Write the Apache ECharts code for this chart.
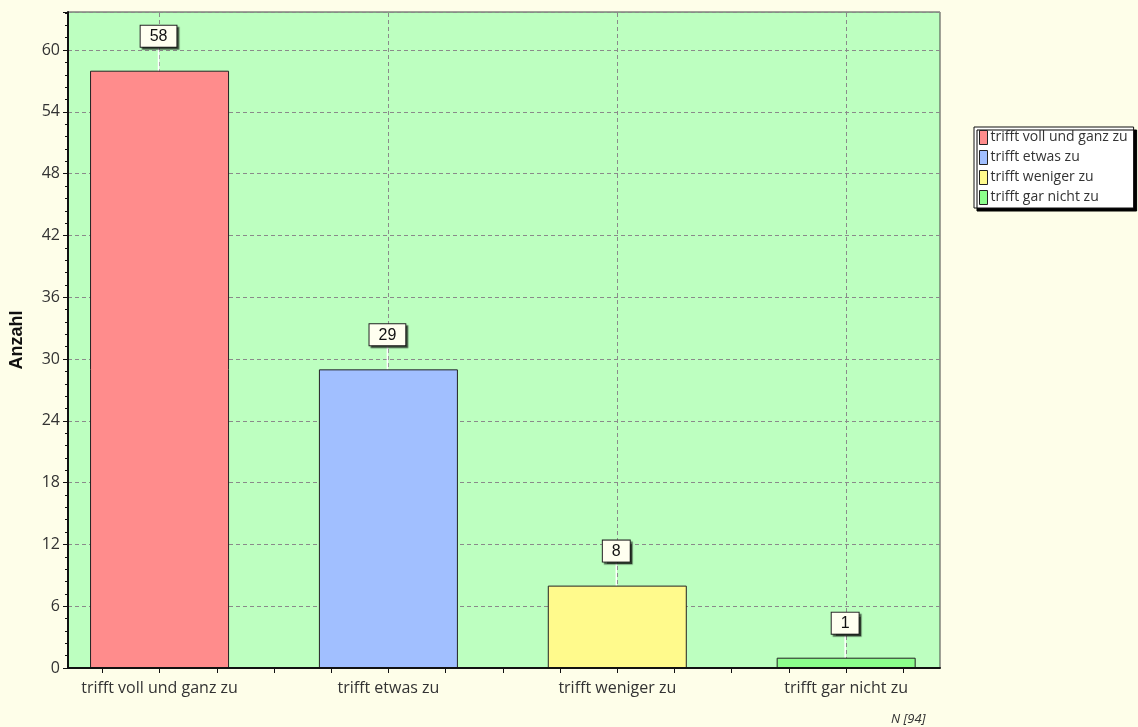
<!DOCTYPE html>
<html><head><meta charset="utf-8">
<script src="https://cdn.jsdelivr.net/npm/echarts@6/dist/echarts.min.js"></script>
<style>html,body{margin:0;padding:0;background:#FEFEE9}#c{width:1138px;height:727px}</style>
</head><body><div id="c"></div>
<script>
var categories = ['trifft voll und ganz zu', 'trifft etwas zu', 'trifft weniger zu', 'trifft gar nicht zu'];
var values = [58, 29, 8, 1];
var colors = ['#FF8C8C', '#A1BFFF', '#FFFA8C', '#8CFF8C'];
var yTicks = [0, 6, 12, 18, 24, 30, 36, 42, 48, 54, 60];
var sampleNote = 'N [94]';

var catPos = categories.map(function (c, i) { return i; });
var quarterTicks = [];
for (var q = -1; q <= categories.length * 4 - 3; q++) quarterTicks.push(q / 4);

var font = 'Open Sans';
var series = categories.map(function (name, i) {
  return {
    type: 'bar', name: name, barWidth: 139, barGap: '-100%', z: 3,
    data: [[i, values[i]]],
    itemStyle: { color: colors[i], borderColor: '#222', borderWidth: 1 },
    label: {
      show: true, position: 'top', distance: 0,
      formatter: function (p) { return p.value[1]; },
      fontFamily: 'Liberation Sans', fontSize: 16, color: '#111',
      backgroundColor: '#FFFFF0', borderColor: '#222', borderWidth: 1,
      padding: [3, 9, 2, 9],
      shadowColor: 'rgba(0,0,0,0.55)', shadowOffsetX: 2, shadowOffsetY: 2, shadowBlur: 1
    },
    labelLayout: { dy: -24, dx: -1 },
    labelLine: { show: true, lineStyle: { color: '#ffffff', width: 1.5 } }
  };
});
series.push({
  type: 'line', name: 'grid', data: [], z: 1, silent: true,
  markLine: {
    silent: true, symbol: 'none', z: 1, label: { show: false },
    lineStyle: { color: '#8a8a8a', type: [4, 3], width: 1 },
    data: catPos.map(function (v) { return { xAxis: v }; })
  }
});

var chart = echarts.init(document.getElementById('c'));
chart.setOption({
  backgroundColor: '#FEFEE9',
  animation: false,
  grid: { left: 66, top: 12, width: 874, height: 656, show: true, backgroundColor: '#BDFFC0', borderColor: '#444', borderWidth: 1 },
  legend: {
    orient: 'vertical', left: 974, top: 127,
    data: categories,
    backgroundColor: '#ffffff', borderColor: '#111', borderWidth: 1,
    padding: [3, 6, 3, 5], itemGap: 5, itemWidth: 8, itemHeight: 14,
    icon: 'rect',
    itemStyle: { borderColor: '#222', borderWidth: 1 },
    textStyle: { fontFamily: font, fontSize: 14, color: '#333', padding: [0, 0, 0, -2] },
    shadowColor: '#000', shadowOffsetX: 3, shadowOffsetY: 3, shadowBlur: 0
  },
  title: {
    text: sampleNote, left: 886, top: 708,
    textStyle: { fontFamily: font, fontSize: 13, fontStyle: 'italic', fontWeight: 'normal', color: '#333' }
  },
  xAxis: {
    type: 'value', min: -0.4, max: 3.41,
    axisLine: { show: true, onZero: false, lineStyle: { color: '#111', width: 2 }, z: 10 },
    axisTick: { show: true, inside: false, length: 5, customValues: quarterTicks, lineStyle: { color: '#111', width: 1 } },
    axisLabel: {
      customValues: catPos, margin: 12,
      formatter: function (v) { return categories[Math.round(v)]; },
      fontFamily: font, fontSize: 16, color: '#333'
    },
    splitLine: { show: false },
    z: 10
  },
  yAxis: {
    type: 'value', min: 0, max: 63.7, interval: 6,
    name: 'Anzahl', nameLocation: 'middle', nameGap: 42, nameRotate: 90,
    nameTextStyle: { fontFamily: 'Liberation Sans', fontSize: 18, fontWeight: 'bold', color: '#111' },
    axisLine: { show: true, onZero: false, lineStyle: { color: '#111', width: 2 } },
    axisTick: { show: true, inside: false, length: 5, lineStyle: { color: '#111' } },
    minorTick: { show: true, splitNumber: 5, length: 3, lineStyle: { color: '#111' } },
    axisLabel: {
      showMaxLabel: false, margin: 8,
      formatter: function (v) { return yTicks.indexOf(v) >= 0 ? String(v) : ''; },
      fontFamily: font, fontSize: 16, color: '#333'
    },
    splitLine: { show: true, lineStyle: { color: '#8a8a8a', type: [4, 3], width: 1 } }
  },
  series: series
});
</script></body></html>
